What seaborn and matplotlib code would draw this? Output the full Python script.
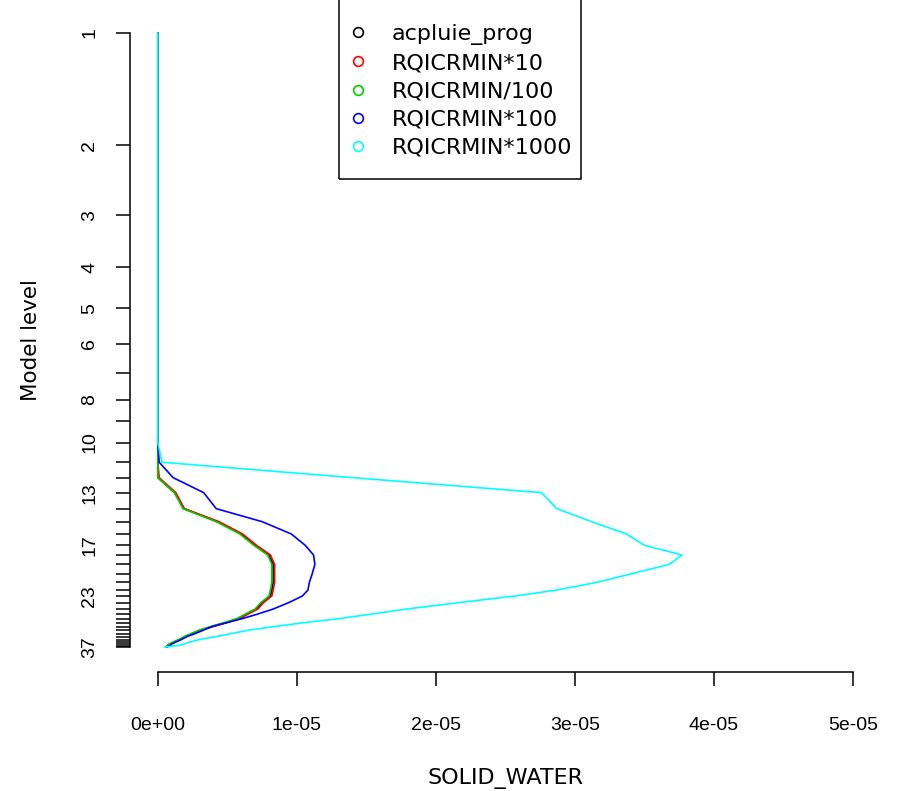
import numpy as np
import pandas as pd
import matplotlib
matplotlib.use('Agg')
import matplotlib.pyplot as plt
import matplotlib.patches as patches
from matplotlib.lines import Line2D
import seaborn as sns

# niveaux du modele et profils de SOLID_WATER (unite 1e-5)
levels = list(range(1, 38))

acpluie_prog = [0] * 11 + [0.00, 0.12, 0.19, 0.43, 0.60, 0.70, 0.80, 0.83, 0.83, 0.83, 0.82, 0.81,
                           0.75, 0.71, 0.64, 0.58, 0.49, 0.39, 0.31, 0.25, 0.20, 0.16, 0.12, 0.09,
                           0.07, 0.06]
rqicrmin_x10 = [0] * 11 + [0.01, 0.13, 0.19, 0.44, 0.61, 0.71, 0.81, 0.84, 0.84, 0.84, 0.83, 0.82,
                           0.76, 0.72, 0.65, 0.59, 0.50, 0.40, 0.31, 0.25, 0.20, 0.16, 0.12, 0.09,
                           0.07, 0.06]
rqicrmin_d100 = [0] * 11 + [0.00, 0.12, 0.18, 0.42, 0.59, 0.69, 0.79, 0.82, 0.82, 0.82, 0.81, 0.80,
                            0.74, 0.70, 0.63, 0.57, 0.48, 0.38, 0.30, 0.24, 0.19, 0.15, 0.11, 0.08,
                            0.07, 0.06]
rqicrmin_x100 = [0] * 10 + [0.01, 0.11, 0.33, 0.42, 0.75, 0.96, 1.06, 1.12, 1.13, 1.11, 1.09, 1.08,
                            1.04, 0.94, 0.83, 0.72, 0.61, 0.50, 0.39, 0.33, 0.27, 0.21, 0.17, 0.13,
                            0.10, 0.09, 0.065]
rqicrmin_x1000 = [0] * 10 + [0.03, 1.40, 2.76, 2.87, 3.12, 3.37, 3.50, 3.77, 3.68, 3.40, 3.16, 2.87,
                             2.57, 2.16, 1.79, 1.54, 1.31, 1.06, 0.84, 0.66, 0.53, 0.42, 0.30, 0.23,
                             0.19, 0.14, 0.05]

run_names = ['acpluie_prog', 'RQICRMIN*10', 'RQICRMIN/100', 'RQICRMIN*100', 'RQICRMIN*1000']
run_colors = ['black', '#FF0000', '#00CD00', '#0000FF', '#00FFFF']

xtick_values = [0, 1e-5, 2e-5, 3e-5, 4e-5, 5e-5]
xtick_labels = ['0e+00', '1e-05', '2e-05', '3e-05', '4e-05', '5e-05']
ytick_labelled = [1, 2, 3, 4, 5, 6, 8, 10, 13, 17, 23, 37]

scale_levels = [0, 1, 2, 3, 4, 5, 6, 7, 8, 9, 10, 11, 12, 13, 14, 15, 16, 17, 18, 19, 20,
                21, 22, 23, 24, 25, 26, 27, 28, 29, 30, 31, 32, 33, 34, 35, 36, 37, 38, 60]
scale_pos = [-79.1, 33.3, 145.7, 215.7, 267.3, 308.3, 344.0, 372.7, 400.0, 421.0, 442.7,
             462.3, 477.7, 492.7, 508.7, 521.7, 534.0, 545.3, 555.0, 564.3, 574.0, 582.3,
             590.0, 596.0, 602.7, 609.0, 614.0, 618.5, 622.5, 626.5, 630.0, 633.5, 636.5,
             639.5, 642.0, 644.0, 645.5, 647.0, 648.5, 681.5]


def fwd(v):
    return np.interp(v, scale_levels, scale_pos)


def inv(p):
    return np.interp(p, scale_pos, scale_levels)


series = [acpluie_prog, rqicrmin_x10, rqicrmin_d100, rqicrmin_x100, rqicrmin_x1000]
frames = []
for name, vals in zip(run_names, series):
    frames.append(pd.DataFrame({'level': levels,
                                'solid_water': np.array(vals) * 1e-5,
                                'run': name}))
df = pd.concat(frames, ignore_index=True)

sns.set_style('white')
plt.rcParams['font.family'] = ['DejaVu Sans']
for key in ['text.color', 'axes.labelcolor', 'xtick.color', 'ytick.color']:
    plt.rcParams[key] = 'black'

W, H = 898, 791
fig = plt.figure(figsize=(W / 100, H / 100), dpi=100)
# zone de trace facon R (4% de marge autour des donnees)
ax = fig.add_axes([130 / W, 1 - 671.6 / H, (880.8 - 130) / W, (671.6 - 8.4) / H])

sns.lineplot(data=df, x='solid_water', y='level', hue='run', hue_order=run_names,
             palette=run_colors, sort=False, estimator=None, orient='y',
             legend=False, linewidth=1.2, ax=ax)

ax.set_yscale('function', functions=(fwd, inv))
p1, p37 = fwd(1), fwd(37)
span = p37 - p1
ax.set_ylim(inv(p37 + 0.04 * span), inv(p1 - 0.04 * span))
ax.set_xlim(-2e-6, 5.2e-5)

tick_font = ['Liberation Sans Narrow', 'Liberation Sans', 'DejaVu Sans']
ax.set_xticks(xtick_values, labels=xtick_labels)
ax.set_yticks(levels, labels=[str(l) if l in ytick_labelled else '' for l in levels])
for lab in ax.get_xticklabels() + ax.get_yticklabels():
    lab.set_family(tick_font)
    lab.set_fontsize(14)
ax.yaxis.set_minor_locator(matplotlib.ticker.NullLocator())
ax.tick_params(axis='both', direction='out', length=10, width=1.1, color='black',
               labelcolor='black', left=True, bottom=True)
ax.tick_params(axis='x', pad=23)
ax.tick_params(axis='y', pad=13, labelrotation=90)
for lab in ax.get_yticklabels():
    lab.set_verticalalignment('center')

for side in ['top', 'right']:
    ax.spines[side].set_visible(False)
ax.spines['left'].set_bounds(1, 37)
ax.spines['bottom'].set_bounds(0, 5e-5)
for side in ['left', 'bottom']:
    ax.spines[side].set_color('black')
    ax.spines[side].set_linewidth(1.1)

ax.set_xlabel('SOLID_WATER', fontsize=16, labelpad=24)
ax.set_ylabel('Model level', fontsize=15.5, labelpad=29)

handles = [Line2D([], [], marker='o', linestyle='none', markerfacecolor='none',
                  markeredgecolor=c, markersize=7, markeredgewidth=1.2) for c in run_colors]
fig.legend(handles, run_names, loc='upper left', bbox_to_anchor=(347 / W, 1 - 24 / H),
           frameon=False, fontsize=16, handlelength=1.0, handletextpad=1.0,
           labelspacing=0.37, borderpad=0, borderaxespad=0)
fig.add_artist(patches.Rectangle((339 / W, 1 - 179 / H), (581 - 339) / W, 0.4,
                                 transform=fig.transFigure, fill=False, edgecolor='black',
                                 linewidth=1.1, clip_on=False))

fig.savefig('out.png', dpi=100)
